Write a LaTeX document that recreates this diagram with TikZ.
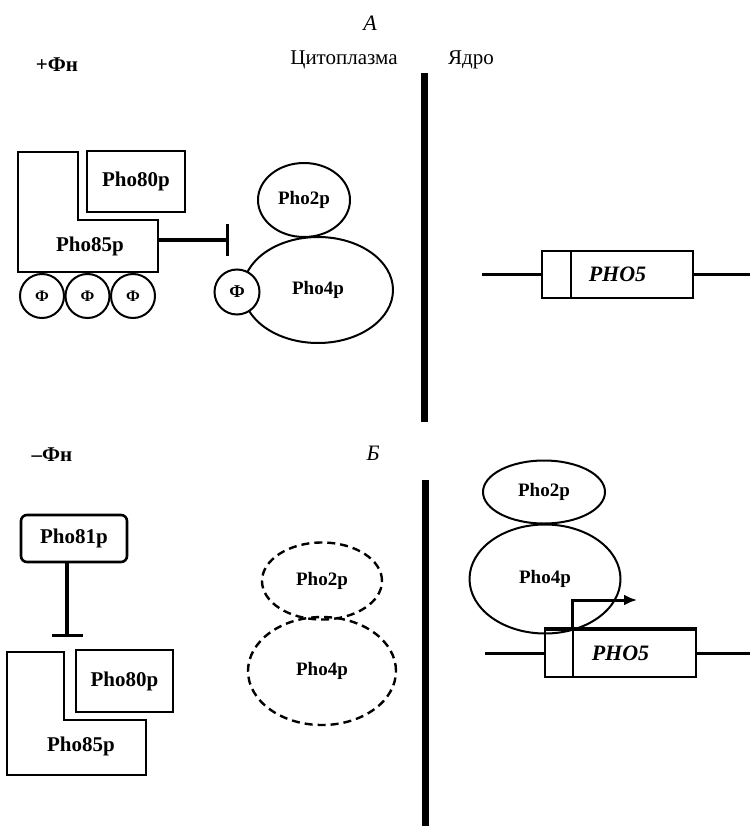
\documentclass[tikz,border=0pt]{standalone}
\usepackage{fontspec}
\setmainfont{Liberation Serif}
\usetikzlibrary{arrows.meta,positioning,shapes.geometric}

\begin{document}
\begin{tikzpicture}[x=1pt,y=-1pt,>=Latex]
\tikzstyle{prot}=[draw,ellipse,line width=2pt,inner sep=0pt,font=\bfseries\fontsize{19}{19}\selectfont]
\tikzstyle{gone}=[prot,line width=2.4pt,dash pattern=on 8pt off 5pt]
\tikzstyle{phos}=[draw,circle,line width=2pt,fill=white,inner sep=0pt,minimum size=44pt,font=\bfseries\fontsize{16}{16}\selectfont]
\tikzstyle{kbox}=[draw,line width=2.6pt,inner sep=0pt,font=\bfseries\fontsize{21}{21}\selectfont]
\tikzstyle{kin}=[line width=2.6pt]
\tikzstyle{gene}=[draw,line width=2.4pt,minimum width=151pt,minimum height=47pt,inner sep=0pt,font=\bfseries\itshape\fontsize{22}{22}\selectfont]
\tikzstyle{dna}=[line width=2.4pt]
\tikzstyle{inhib}=[line width=3.2pt,-{Bar[width=31pt]}]
\tikzstyle{membrane}=[line width=7pt]
\tikzstyle{txt}=[inner sep=0pt,font=\fontsize{21}{21}\selectfont]
\useasboundingbox (0,0) rectangle (750,826);

% headings
\node[txt,font=\itshape\fontsize{22}{22}\selectfont] (partA) at (370,23) {А};
\node[txt,font=\itshape\fontsize{22}{22}\selectfont] (partB) at (373,453) {Б};
\node[txt,font=\bfseries\fontsize{21}{21}\selectfont] (plus) at (57,65) {+Фн};
\node[txt,font=\bfseries\fontsize{21}{21}\selectfont] (minus) at (52,455) {–Фн};
\node[txt] (cyto) at (344,60) {Цитоплазма};
\node[txt] (nucl) at (471,60) {Ядро};

% nuclear envelope
\draw[membrane] (424,73) -- (424,422);
\draw[membrane] (425,480) -- (425,826);

% +Pi: kinase complex
\draw[kin] (18,152) -| (78,220) -| (158,272) -- (18,272) -- cycle;
\node[txt,font=\bfseries\fontsize{21}{21}\selectfont] (k85a) at (90,246) {Pho85p};
\node[kbox,minimum width=98pt,minimum height=61pt] (k80a) at (136,181.5) {Pho80p};
\foreach \i/\x in {1/42,2/87.5,3/133}{\node[phos] (f\i) at (\x,296) {Ф};}
\coordinate (inhA1) at (158,240);
\coordinate (inhA2) at (229,240);
\draw[inhib] (inhA1) -- (inhA2);

% +Pi: Pho4p phosphorylated in cytoplasm
\node[prot,minimum width=92pt,minimum height=74pt] (p2a) at (304,200) {Pho2p};
\node[prot,minimum width=150pt,minimum height=106pt] (p4a) at (318,290) {Pho4p};
\node[phos,minimum size=45pt,font=\bfseries\fontsize{18}{18}\selectfont] (f4) at (237,292) {Ф};

% +Pi: PHO5 silent
\node[gene] (g1) at (617.5,274.5) {PHO5};
\coordinate (g1l) at (482,274.5);
\coordinate (g1r) at (750,274.5);
\draw[dna] (g1l) -- (g1.west);
\draw[dna] (g1.east) -- (g1r);
\draw[dna] ([xshift=30pt]g1.north west) -- ([xshift=30pt]g1.south west);

% -Pi: Pho81p inhibits kinase
\node[kbox,rounded corners=6pt,minimum width=106pt,minimum height=47pt] (k81) at (74,538.5) {Pho81p};
\coordinate (inhB) at (67,637);
\draw[inhib] ([xshift=-7pt]k81.south) -- (inhB);
\draw[kin] (7,652) -| (64,720) -| (146,775) -- (7,775) -- cycle;
\node[txt,font=\bfseries\fontsize{21}{21}\selectfont] (k85b) at (81,746) {Pho85p};
\node[kbox,minimum width=97pt,minimum height=62pt] (k80b) at (124.5,681) {Pho80p};

% -Pi: cytoplasmic pool gone
\node[gone,minimum width=120pt,minimum height=77pt] (p2b) at (322,581) {Pho2p};
\node[gone,minimum width=148pt,minimum height=108pt] (p4b) at (322,671) {Pho4p};

% -Pi: PHO5 switched on
\node[prot,minimum width=122pt,minimum height=63pt] (p2c) at (544,492) {Pho2p};
\node[prot,minimum width=151pt,minimum height=109pt] (p4c) at (545,579) {Pho4p};
\node[gene] (g2) at (620.5,653.5) {PHO5};
\coordinate (g2l) at (485,653.5);
\coordinate (g2r) at (750,653.5);
\coordinate (tss) at (637,600);
\draw[dna] (g2l) -- (g2.west);
\draw[dna] (g2.east) -- (g2r);
\draw[line width=3.6pt] (g2.north west) -- (g2.north east);
\draw[dna] ([xshift=29pt]g2.north west) -- ([xshift=29pt]g2.south west);
\draw[line width=3pt,-{Latex[length=13pt,width=11pt]}] ([xshift=29pt]g2.north west) |- (tss);
\end{tikzpicture}
\end{document}
